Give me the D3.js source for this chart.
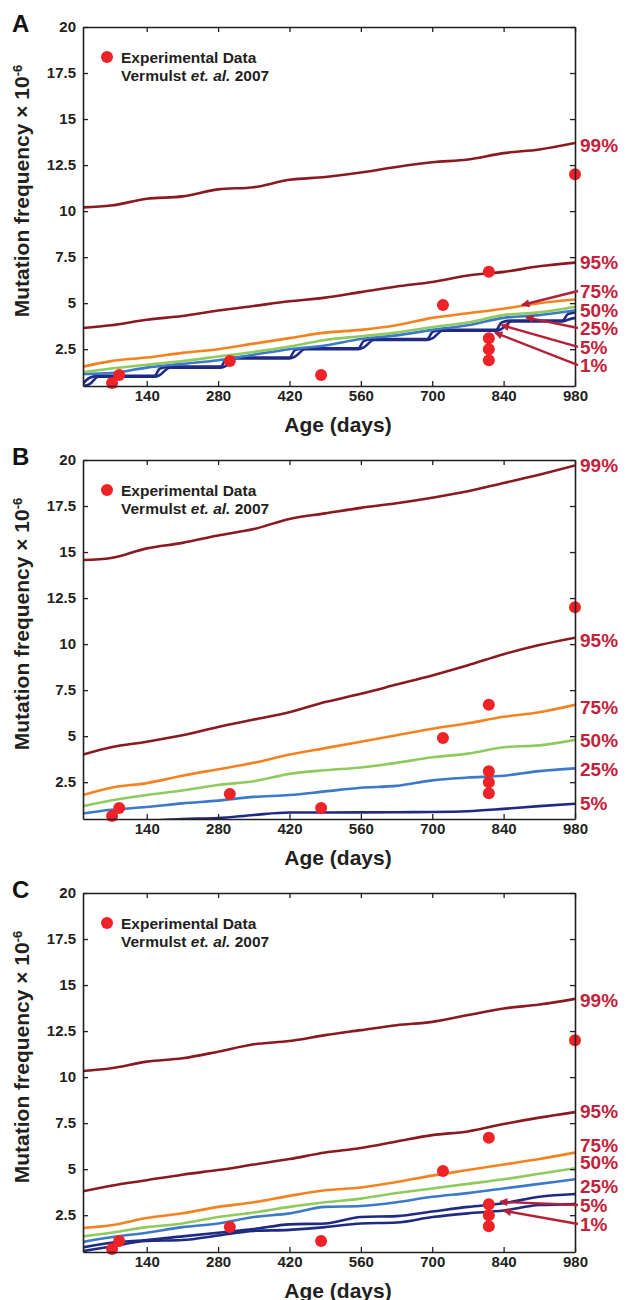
<!DOCTYPE html>
<html lang="en">
<head>
<meta charset="utf-8">
<title>Mutation frequency percentiles</title>
<script src="https://cdn.jsdelivr.net/npm/d3@7"></script>
<style>
  body { margin: 0; background: #fff; }
  text { font-family: "Liberation Sans", Arial, Helvetica, sans-serif; font-weight: bold; }
</style>
</head>
<body>
<script>
// ages (days) where the simulated percentile curves are sampled
var days = [15, 70, 140, 210, 280, 350, 420, 490, 560, 630, 700, 770, 840, 910, 980];

// panel A
var a99 = [10.2, 10.3, 10.67, 10.8, 11.18, 11.3, 11.7, 11.85, 12.1, 12.4, 12.65, 12.8, 13.15, 13.35, 13.7];
var a95 = [3.65, 3.8, 4.1, 4.3, 4.6, 4.85, 5.1, 5.3, 5.6, 5.9, 6.15, 6.5, 6.7, 7.0, 7.2];
var a75 = [1.55, 1.85, 2.05, 2.3, 2.5, 2.8, 3.1, 3.4, 3.55, 3.8, 4.2, 4.45, 4.7, 5.0, 5.2];
var a50 = [1.25, 1.45, 1.65, 1.85, 2.1, 2.35, 2.65, 3.0, 3.2, 3.4, 3.7, 3.95, 4.35, 4.5, 4.8];
var a25 = [1.15, 1.2, 1.5, 1.7, 1.9, 2.2, 2.5, 2.7, 3.05, 3.25, 3.55, 3.8, 4.2, 4.35, 4.6];
// the low percentiles in A are staircases, so they get their own sample days
var stairDays = [15, 28, 45, 155, 166, 185, 285, 296, 315, 420, 431, 450, 555, 566, 585, 690, 701, 720, 825, 836, 855, 955, 966, 980];
var a5 = [0.62, 0.95, 1.05, 1.05, 1.45, 1.55, 1.55, 1.95, 2.05, 2.05, 2.45, 2.55, 2.55, 2.95, 3.05, 3.05, 3.45, 3.55, 3.55, 3.95, 4.05, 4.05, 4.4, 4.5];
var a1 = [0.5, 0.6, 1.0, 1.0, 1.1, 1.5, 1.5, 1.6, 2.0, 2.0, 2.1, 2.5, 2.5, 2.6, 3.0, 3.0, 3.1, 3.5, 3.5, 3.6, 4.0, 4.0, 4.1, 4.2];

// panel B
var b99 = [14.57, 14.68, 15.2, 15.5, 15.9, 16.25, 16.8, 17.1, 17.4, 17.65, 17.95, 18.3, 18.75, 19.2, 19.7];
var b95 = [4.0, 4.4, 4.7, 5.05, 5.5, 5.9, 6.3, 6.85, 7.3, 7.8, 8.3, 8.85, 9.45, 9.95, 10.35];
var b75 = [1.8, 2.2, 2.45, 2.85, 3.2, 3.55, 4.0, 4.35, 4.7, 5.05, 5.4, 5.7, 6.05, 6.3, 6.7];
var b50 = [1.2, 1.5, 1.8, 2.05, 2.35, 2.55, 2.95, 3.15, 3.3, 3.55, 3.85, 4.05, 4.4, 4.5, 4.8];
var b25 = [0.8, 1.0, 1.15, 1.35, 1.5, 1.7, 1.8, 2.0, 2.2, 2.3, 2.6, 2.75, 2.85, 3.1, 3.25];
var b5 = [0.2, 0.3, 0.4, 0.5, 0.55, 0.72, 0.85, 0.85, 0.86, 0.87, 0.88, 0.92, 1.05, 1.2, 1.33];

// panel C
var c99 = [10.33, 10.48, 10.84, 11.02, 11.38, 11.78, 11.96, 12.28, 12.55, 12.82, 13.0, 13.37, 13.73, 13.94, 14.25];
var c95 = [3.8, 4.1, 4.4, 4.7, 4.95, 5.25, 5.55, 5.9, 6.15, 6.5, 6.85, 7.05, 7.45, 7.8, 8.1];
var c75 = [1.8, 1.95, 2.35, 2.6, 2.95, 3.2, 3.55, 3.85, 4.0, 4.3, 4.65, 4.95, 5.25, 5.55, 5.9];
var c50 = [1.35, 1.55, 1.85, 2.05, 2.4, 2.65, 2.95, 3.2, 3.4, 3.7, 3.95, 4.2, 4.45, 4.75, 5.05];
var c25 = [1.05, 1.3, 1.55, 1.85, 2.05, 2.4, 2.6, 2.95, 3.0, 3.2, 3.5, 3.7, 3.95, 4.2, 4.45];
var c5 = [0.75, 1.0, 1.15, 1.35, 1.55, 1.75, 2.0, 2.05, 2.4, 2.45, 2.7, 2.95, 3.15, 3.5, 3.65];
var c1 = [0.55, 0.8, 1.1, 1.15, 1.4, 1.65, 1.7, 1.85, 2.05, 2.1, 2.4, 2.6, 2.75, 3.05, 3.1];

// experimental data (Vermulst et al. 2007), same in every panel
var expDays = [72, 86, 303, 482, 721, 811, 811, 811, 811, 980];
var expFreq = [0.66, 1.1, 1.86, 1.1, 4.9, 6.7, 3.1, 2.5, 1.9, 12.0];

var xTicks = [140, 280, 420, 560, 700, 840, 980];
var yTicks = [2.5, 5, 7.5, 10, 12.5, 15, 17.5, 20];

// right-hand percentile labels (value = where the label sits)
var labelsA = [["99%", 13.6], ["95%", 7.2], ["75%", 5.66], ["50%", 4.63], ["25%", 3.65], ["5%", 2.62], ["1%", 1.64]];
var labelsB = [["99%", 19.7], ["95%", 10.2], ["75%", 6.58], ["50%", 4.79], ["25%", 3.2], ["5%", 1.37]];
var labelsC = [["99%", 14.2], ["95%", 8.13], ["75%", 6.31], ["50%", 5.39], ["25%", 4.09], ["5%", 3.05], ["1%", 2.02]];

// arrows: label value -> [day, value] on the curve
var arrowsA = [[5.66, 876, 4.9], [3.65, 884, 4.23], [2.62, 836, 3.81], [1.64, 823, 3.4]];
var arrowsC = [[3.05, 833, 3.23], [2.02, 840, 2.74]];

var colors = {
    p99: "#8a1a20", p95: "#8a1a20", p75: "#f5821f", p50: "#8fcb5c",
    p25: "#3d79c9", p5: "#1f2a84", p1: "#1f2a84"
};

var panels = [
    { letter: "A", top: 27, labels: labelsA, arrows: arrowsA, series: [
        ["p99", days, a99], ["p95", days, a95], ["p75", days, a75], ["p50", days, a50],
        ["p25", days, a25], ["p5", stairDays, a5], ["p1", stairDays, a1] ] },
    { letter: "B", top: 460, labels: labelsB, arrows: [], series: [
        ["p99", days, b99], ["p95", days, b95], ["p75", days, b75], ["p50", days, b50],
        ["p25", days, b25], ["p5", days, b5] ] },
    { letter: "C", top: 893, labels: labelsC, arrows: arrowsC, series: [
        ["p99", days, c99], ["p95", days, c95], ["p75", days, c75], ["p50", days, c50],
        ["p25", days, c25], ["p5", days, c5], ["p1", days, c1] ] }
];

var w = 626, h = 1300;
var left = 83, right = 575, plotH = 359;
var ink = "#231f20", labelRed = "#c4213b", arrowRed = "#b71f36";

var svg = d3.select("body").append("svg")
    .attr("width", w)
    .attr("height", h);

svg.append("defs").append("marker")
    .attr("id", "head")
    .attr("viewBox", "0 0 10 10")
    .attr("refX", 9).attr("refY", 5)
    .attr("markerWidth", 4.4).attr("markerHeight", 3.4)
    .attr("markerUnits", "strokeWidth")
    .attr("orient", "auto")
    .append("path")
    .attr("d", "M0,0L10,5L0,10z")
    .attr("fill", arrowRed);

panels.forEach(function(p, i) {
    var top = p.top, bottom = top + plotH;
    var x = d3.scaleLinear().domain([15, 980]).range([left, right]);
    var y = d3.scaleLinear().domain([0.5, 20]).range([bottom, top]);
    var g = svg.append("g");

    g.append("clipPath").attr("id", "clip" + i)
        .append("rect")
        .attr("x", left).attr("y", top)
        .attr("width", right - left).attr("height", plotH);

    // curves
    var line = d3.line().curve(d3.curveMonotoneX);
    var curves = g.append("g").attr("clip-path", "url(#clip" + i + ")");
    p.series.slice().reverse().forEach(function(s) {
        var pts = s[1].map(function(d, k) { return [x(d), y(s[2][k])]; });
        curves.append("path")
            .attr("d", line(pts))
            .attr("fill", "none")
            .attr("stroke", colors[s[0]])
            .attr("stroke-width", 2.6)
            .attr("stroke-linejoin", "round");
    });

    // experimental points
    g.selectAll("circle")
        .data(expDays)
        .enter()
        .append("circle")
        .attr("cx", function(d) { return x(d); })
        .attr("cy", function(d, k) { return y(expFreq[k]); })
        .attr("r", 6)
        .attr("fill", "#ee2227");

    // axes, ticks pointing inward on all four sides
    g.append("g").attr("transform", "translate(" + left + ",0)")
        .call(d3.axisLeft(y).tickValues(yTicks).tickSize(-5).tickSizeOuter(0)
            .tickPadding(7).tickFormat(function(d) { return String(d); }));
    g.append("g").attr("transform", "translate(0," + bottom + ")")
        .call(d3.axisBottom(x).tickValues(xTicks).tickSize(-5).tickSizeOuter(0).tickPadding(4));
    g.append("g").attr("transform", "translate(0," + top + ")")
        .call(d3.axisTop(x).tickValues(xTicks).tickSize(-5).tickSizeOuter(0).tickFormat(""));
    g.append("g").attr("transform", "translate(" + right + ",0)")
        .call(d3.axisRight(y).tickValues(yTicks).tickSize(-5).tickSizeOuter(0).tickFormat(""));
    g.selectAll(".domain").attr("stroke", ink).attr("stroke-width", 1.6);
    g.selectAll(".tick line").attr("stroke", ink).attr("stroke-width", 1.3);
    g.selectAll(".tick text").attr("fill", ink).attr("font-size", "15px")
        .attr("font-family", "'Liberation Sans', Arial, sans-serif");

    // axis titles
    g.append("text")
        .attr("x", 338).attr("y", bottom + 46)
        .attr("text-anchor", "middle")
        .attr("font-size", "21px")
        .attr("fill", ink)
        .text("Age (days)");

    var yt = g.append("text")
        .attr("transform", "translate(29," + (top + 164) + ") rotate(-90)")
        .attr("text-anchor", "middle")
        .attr("font-size", "21px")
        .attr("fill", ink);
    yt.append("tspan").text("Mutation frequency \u00d7 10");
    yt.append("tspan").attr("dy", "-0.55em").attr("font-size", "13px").text("-6");

    // panel letter
    g.append("text")
        .attr("x", 12).attr("y", top + 5)
        .attr("font-size", "24px")
        .attr("fill", "#111")
        .text(p.letter);

    // legend
    g.append("circle")
        .attr("cx", 107).attr("cy", top + 30)
        .attr("r", 6)
        .attr("fill", "#ee2227");
    g.append("text")
        .attr("x", 121).attr("y", top + 36)
        .attr("font-size", "15.5px")
        .attr("fill", ink)
        .text("Experimental Data");
    var ref = g.append("text")
        .attr("x", 121).attr("y", top + 54)
        .attr("font-size", "15.5px")
        .attr("fill", ink);
    ref.append("tspan").text("Vermulst ");
    ref.append("tspan").attr("font-style", "italic").text("et. al.");
    ref.append("tspan").text(" 2007");

    // percentile labels
    g.selectAll(".pct")
        .data(p.labels)
        .enter()
        .append("text")
        .attr("class", "pct")
        .attr("x", right + 5)
        .attr("y", function(d) { return y(d[1]); })
        .attr("dy", "0.36em")
        .attr("font-size", "19px")
        .attr("fill", labelRed)
        .text(function(d) { return d[0]; });

    // arrows
    g.selectAll(".arrow")
        .data(p.arrows)
        .enter()
        .append("line")
        .attr("class", "arrow")
        .attr("x1", right + 3)
        .attr("y1", function(d) { return y(d[0]); })
        .attr("x2", function(d) { return x(d[1]); })
        .attr("y2", function(d) { return y(d[2]); })
        .attr("stroke", arrowRed)
        .attr("stroke-width", 2.4)
        .attr("marker-end", "url(#head)");
});
</script>
</body>
</html>
